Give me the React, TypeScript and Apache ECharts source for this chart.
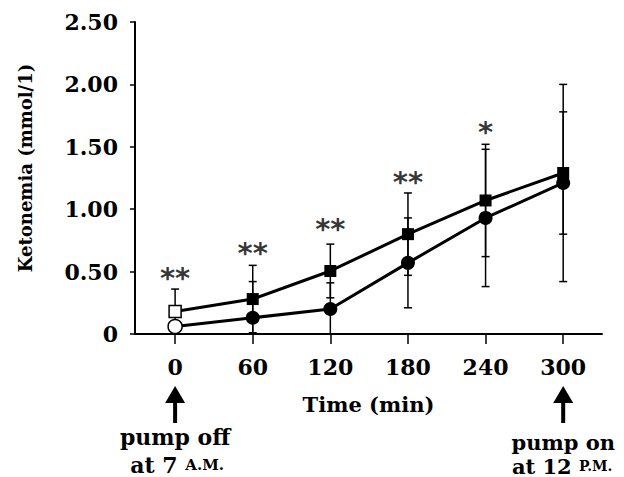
import React, { useEffect, useRef } from "react";
import * as echarts from "echarts";

const times = [0, 60, 120, 180, 240, 300];
const squareMean = [0.18, 0.28, 0.505, 0.8, 1.07, 1.29];
const squareSD = [0.18, 0.27, 0.215, 0.33, 0.45, 0.49];
const circleMean = [0.06, 0.13, 0.2, 0.57, 0.93, 1.21];
const circleSD = [0.04, 0.29, 0.21, 0.36, 0.55, 0.79];
const starLevels = [0.5, 0.7, 0.89, 1.27, 1.67];
const starTexts = ["**", "**", "**", "**", "*"];

const SERIF = "DejaVu Serif";

export default function App() {
  const ref = useRef<HTMLDivElement>(null);
  useEffect(() => {
    if (!ref.current) return;
    const chart = echarts.init(ref.current, null, { renderer: "svg" });

    const errData = [
      ...times.map((t, i) => [t, squareMean[i] - squareSD[i], squareMean[i] + squareSD[i]]),
      ...times.map((t, i) => [t, circleMean[i] - circleSD[i], circleMean[i] + circleSD[i]]),
    ];

    const openFirst = (arr: number[]) =>
      arr.map((v, i) =>
        i === 0
          ? { value: [times[i], v], itemStyle: { color: "#fff", borderColor: "#000", borderWidth: 1.5 } }
          : { value: [times[i], v] }
      );

    chart.setOption({
      animation: false,
      backgroundColor: "#fff",
      grid: { left: 135, right: 22, top: 22, bottom: 143 },
      xAxis: {
        type: "value",
        min: -31,
        max: 330,
        name: "Time (min)",
        nameLocation: "middle",
        nameGap: 60,
        nameTextStyle: { fontFamily: SERIF, fontWeight: "bold", fontSize: 21, color: "#000" },
        axisLine: { onZero: false, lineStyle: { color: "#000", width: 2 } },
        axisTick: { show: true, length: 10, lineStyle: { color: "#000", width: 1.5 }, customValues: times },
        axisLabel: {
          customValues: times,
          margin: 22,
          fontFamily: SERIF,
          fontWeight: "bold",
          fontSize: 22,
          color: "#000",
        },
        splitLine: { show: false },
      },
      yAxis: {
        type: "value",
        min: 0,
        max: 2.5,
        interval: 0.5,
        axisLine: { show: true, onZero: false, lineStyle: { color: "#000", width: 2 } },
        axisTick: { show: true, length: 5, lineStyle: { color: "#000", width: 1.5 } },
        axisLabel: {
          margin: 17,
          fontFamily: SERIF,
          fontWeight: "bold",
          fontSize: 22,
          color: "#000",
          formatter: (v: number) => (v === 0 ? "0" : v.toFixed(2)),
        },
        splitLine: { show: false },
      },
      series: [
        {
          type: "custom",
          z: 1,
          data: errData,
          renderItem: (params: any, api: any) => {
            const x = api.value(0);
            const lo = api.value(1);
            const hi = api.value(2);
            const loC = Math.max(lo, 0);
            const pHi = api.coord([x, hi]);
            const pLo = api.coord([x, loC]);
            const w = 4;
            const style = { stroke: "#000", lineWidth: 1.5 };
            const children: any[] = [
              { type: "line", shape: { x1: pHi[0], y1: pHi[1], x2: pLo[0], y2: pLo[1] }, style },
              { type: "line", shape: { x1: pHi[0] - w, y1: pHi[1], x2: pHi[0] + w, y2: pHi[1] }, style },
            ];
            if (lo > 0) {
              children.push({ type: "line", shape: { x1: pLo[0] - w, y1: pLo[1], x2: pLo[0] + w, y2: pLo[1] }, style });
            }
            return { type: "group", children };
          },
        },
        {
          type: "line",
          z: 3,
          data: openFirst(squareMean),
          symbol: "rect",
          symbolSize: 12,
          lineStyle: { color: "#000", width: 3 },
          itemStyle: { color: "#000" },
        },
        {
          type: "line",
          z: 3,
          data: openFirst(circleMean),
          symbol: "circle",
          symbolSize: 14,
          lineStyle: { color: "#000", width: 3 },
          itemStyle: { color: "#000" },
        },
        {
          type: "scatter",
          z: 4,
          symbolSize: 1,
          itemStyle: { color: "rgba(0,0,0,0)" },
          data: starLevels.map((v, i) => [times[i], v, starTexts[i]]),
          label: {
            show: true,
            position: "inside",
            offset: [0, 6],
            formatter: (p: any) => p.value[2],
            fontFamily: "DejaVu Sans",
            fontWeight: "bold",
            fontSize: 29,
            color: "#000",
          },
        },
      ],
    });

    const px0 = chart.convertToPixel({ xAxisIndex: 0 }, 0) as number;
    const px300 = chart.convertToPixel({ xAxisIndex: 0 }, 300) as number;
    const arrow = (px: number) => [
      { type: "polygon", shape: { points: [[px, 386], [px - 10, 403], [px + 10, 403]] }, style: { fill: "#000" } },
      { type: "rect", shape: { x: px - 2, y: 400, width: 4, height: 23 }, style: { fill: "#000" } },
    ];
    const textStyle = { fontFamily: SERIF, fontWeight: "bold", fontSize: 22, fill: "#000", align: "center", verticalAlign: "middle" };
    const rich = { sc: { fontFamily: SERIF, fontWeight: "bold", fontSize: 15, fill: "#000" } };
    const richR = { sc: { fontFamily: SERIF, fontWeight: "bold", fontSize: 14, fill: "#000" } };

    chart.setOption({
      graphic: [
        {
          type: "text",
          x: 25,
          y: 168,
          rotation: Math.PI / 2,
          style: { ...textStyle, text: "Ketonemia (mmol/1)", fontSize: 18 },
        },
        ...arrow(px0),
        ...arrow(px300),
        { type: "text", x: px0, y: 437, style: { ...textStyle, text: "pump off" } },
        { type: "text", x: px0 + 2, y: 465, style: { ...textStyle, text: "at 7 {sc|A.M.}", rich } },
        { type: "text", x: px300, y: 442, style: { ...textStyle, fontSize: 21, text: "pump on" } },
        { type: "text", x: px300 - 1, y: 466, style: { ...textStyle, fontSize: 21, text: "at 12 {sc|P.M.}", rich: richR } },
      ],
    });

    return () => chart.dispose();
  }, []);
  return <div ref={ref} style={{ position: "fixed", left: 0, top: 0, width: 624, height: 477 }} />;
}
